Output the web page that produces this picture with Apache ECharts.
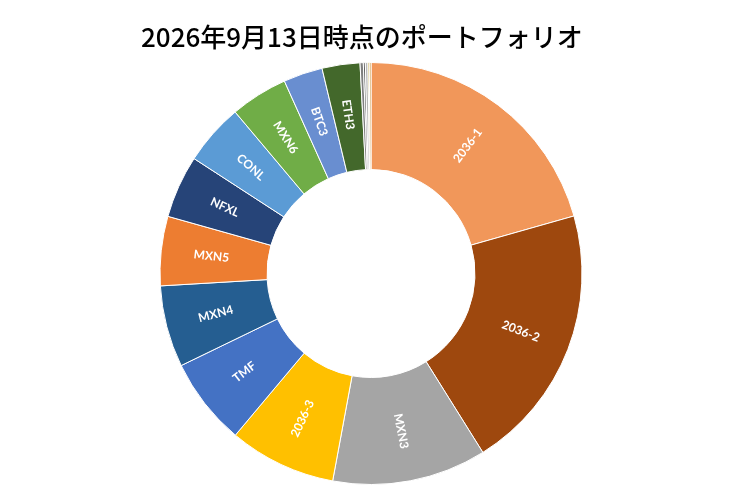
<!DOCTYPE html>
<html>
<head>
<meta charset="utf-8">
<script src="https://cdn.jsdelivr.net/npm/echarts@6/dist/echarts.min.js"></script>
<style>
html,body{margin:0;padding:0;background:#fff;}
#chart{width:740px;height:493px;}
</style>
</head>
<body>
<div id="chart"></div>
<script>
const titleText = '2026年9月13日時点のポートフォリオ';
const categories = ['2036-1','2036-2','MXN3','2036-3','TMF','MXN4','MXN5','NFXL','CONL','MXN6','BTC3','ETH3','その他A','その他B','その他C','その他D','その他E'];
const values = [20.6, 20.5, 11.8, 8.2, 6.7, 6.25, 5.3, 4.8, 4.7, 4.4, 3.0, 2.9, 0.25, 0.15, 0.2, 0.1, 0.13];
const colors = ['#F1975A','#9E480E','#A5A5A5','#FFC000','#4472C4','#255E91','#ED7D31','#264478','#5B9BD5','#70AD47','#698ED0','#43682B','#7F7F7F','#5A5A5A','#B7B7B7','#B08A00','#C8913A'];
const labelled = 12;

const chart = echarts.init(document.getElementById('chart'));
const data = categories.map((c, i) => ({
  name: c,
  value: values[i],
  itemStyle: { color: colors[i] },
  label: { show: i < labelled }
}));
chart.setOption({
  animation: false,
  title: {
    text: titleText,
    left: 136,
    top: 19,
    textStyle: { fontFamily: 'Noto Sans CJK JP', fontSize: 26, fontWeight: 500, color: '#000' }
  },
  series: [{
    type: 'pie',
    center: [371, 273.5],
    radius: [104, 211],
    startAngle: 90,
    clockwise: true,
    avoidLabelOverlap: false,
    emphasis: { disabled: true },
    itemStyle: { borderColor: '#fff', borderWidth: 1 },
    label: {
      position: 'inside',
      rotate: 'radial',
      color: '#fff',
      fontFamily: 'Lato',
      fontWeight: 'bold',
      fontSize: 12,
      formatter: '{b}'
    },
    labelLine: { show: false },
    data: data
  }]
});
</script>
</body>
</html>
